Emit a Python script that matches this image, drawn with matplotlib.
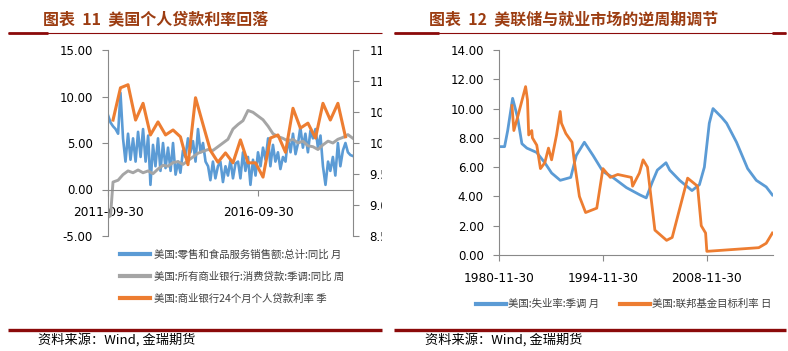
import numpy as np
import pandas as pd
import matplotlib
matplotlib.use('Agg')
import matplotlib.pyplot as plt
import matplotlib.dates as mdates
from matplotlib.lines import Line2D
from matplotlib.patches import Rectangle
from matplotlib.ticker import FormatStrFormatter

plt.rcParams['font.family'] = ['DejaVu Sans', 'Noto Sans CJK SC']
CJK = ['Noto Sans CJK SC', 'DejaVu Sans']

# ---------------- left chart data ----------------
retail_dates = pd.date_range('2011-09-30', periods=99, freq='ME')
retail_yoy = [8.0, 7.2, 6.8, 6.5,
              6.0, 10.4, 5.5, 3.0, 6.0, 3.2, 5.5, 3.0, 6.2, 3.5, 6.5, 3.0,
              5.8, 0.5, 4.8, 2.5, 5.5, 2.0, 5.0, 2.3, 4.5, 2.0, 5.0, 1.6,
              3.0, 1.8, 4.2, 3.5, 5.5, 4.0, 5.2, 3.0, 6.5, 4.0, 5.0, 3.0,
              2.5, 1.0, 3.0, 1.2, 2.5, 3.0, 0.8, 2.5, 1.5, 3.2, 1.2, 2.8,
              3.0, 1.2, 4.0, 2.0, 3.5, 0.5, 3.2, 1.5, 4.0, 2.5, 4.5, 3.2,
              5.5, 2.5, 4.8, 3.0, 4.0, 2.2, 3.5, 3.0, 5.5, 4.0, 6.0, 3.8,
              5.0, 6.7, 4.5, 6.0, 4.0, 6.3, 5.5, 6.5, 4.5, 5.8, 2.5, 0.5,
              3.0, 2.0, 3.5, 1.5, 5.0, 2.5, 4.2, 5.0, 4.0, 3.7, 3.6]

loan_dates = ['2011-09-30', '2011-10-31', '2011-11-30', '2012-01-31', '2012-03-31',
              '2012-05-31', '2012-07-31', '2012-09-30', '2012-11-30', '2013-01-31',
              '2013-03-31', '2013-05-31', '2013-07-31', '2013-09-30', '2013-11-30',
              '2014-01-31', '2014-03-31', '2014-05-31', '2014-07-31', '2014-09-30',
              '2014-11-30', '2015-01-31', '2015-03-31', '2015-05-31', '2015-07-31',
              '2015-09-30', '2015-11-30', '2016-01-31', '2016-03-31', '2016-05-31',
              '2016-07-31', '2016-09-30', '2016-11-30', '2017-01-31', '2017-03-31',
              '2017-05-31', '2017-07-31', '2017-09-30', '2017-11-30', '2018-01-31',
              '2018-03-31', '2018-05-31', '2018-07-31', '2018-09-30', '2018-11-30',
              '2019-01-31', '2019-03-31', '2019-05-31', '2019-07-31', '2019-09-30',
              '2019-11-30']
loan_yoy = [-3.0, -2.8, 0.8, 1.0, 1.6, 2.0, 1.8, 2.1, 1.8, 2.0,
            1.7, 2.2, 2.6, 2.5, 2.9, 3.0, 2.7, 3.1, 3.5, 3.9,
            4.1, 4.3, 4.2, 4.6, 5.0, 5.4, 6.5, 7.0, 7.4, 8.5,
            8.3, 7.9, 7.5, 6.8, 6.0, 5.7, 5.5, 5.2, 5.4, 5.0,
            5.2, 4.7, 4.6, 4.3, 4.8, 5.2, 5.0, 5.4, 5.6, 5.9,
            5.5]

rate_dates = pd.date_range('2011-11-30', periods=32, freq='3ME')
rate_24m = [10.37, 10.89, 10.94, 10.37, 10.64, 10.13, 10.34, 10.13, 10.21, 10.10,
            9.65, 10.73, 10.30, 9.88, 9.69, 9.84, 9.68, 10.05, 9.68, 9.68,
            9.45, 10.08, 10.13, 9.85, 10.56, 10.24, 10.32, 10.08, 10.64, 10.37,
            10.64, 10.10]

left_labels = ['美国:零售和食品服务销售额:总计:同比 月',
               '美国:所有商业银行:消费贷款:季调:同比 周',
               '美国:商业银行24个月个人贷款利率 季']

# ---------------- right chart data ----------------
unemp_dates = ['1980-11', '1981-09', '1982-02', '1982-10', '1983-06', '1984-01',
               '1984-09', '1986-01', '1987-02', '1988-01', '1989-03', '1990-08',
               '1991-05', '1992-06', '1993-08', '1994-12', '1996-04', '1998-02',
               '1999-12', '2000-10', '2001-08', '2002-04', '2003-06', '2003-12',
               '2005-04', '2006-12', '2007-12', '2008-08', '2009-04', '2009-10',
               '2010-12', '2011-08', '2012-12', '2014-06', '2015-08', '2016-12',
               '2017-10']
unemp_rate = [7.4, 7.4, 8.5, 10.7, 9.4, 7.6, 7.3, 7.0, 6.3, 5.6, 5.1, 5.3,
              6.8, 7.7, 6.8, 5.7, 5.3, 4.6, 4.1, 3.9, 5.0, 5.8, 6.3, 5.8,
              5.1, 4.4, 4.8, 6.0, 9.0, 10.0, 9.4, 9.0, 7.7, 5.9, 5.1, 4.65,
              4.1]

fed_dates = ['1982-09', '1982-12', '1983-06', '1984-07', '1984-10', '1984-12',
             '1985-05', '1985-06', '1986-01', '1986-07', '1987-02', '1987-08',
             '1988-01', '1988-09', '1989-03', '1989-05', '1989-12', '1990-10',
             '1991-02', '1991-10', '1992-08', '1994-02', '1994-12', '1995-12',
             '1996-12', '1998-10', '1998-12', '1999-11', '2000-05', '2000-12',
             '2001-07', '2001-12', '2003-07', '2004-04', '2006-05', '2007-09',
             '2008-03', '2008-10', '2008-12', '2015-12', '2016-12', '2017-10']
fed_rate = [10.2, 8.5, 9.4, 11.5, 10.6, 8.2, 8.5, 8.0, 7.5, 5.9, 6.3, 7.3,
            6.5, 8.2, 9.8, 9.0, 8.3, 7.7, 6.3, 4.0, 2.9, 3.2, 5.9, 5.3,
            5.5, 5.3, 4.7, 5.6, 6.5, 6.0, 3.5, 1.7, 1.0, 1.2, 5.25, 4.7,
            2.0, 1.5, 0.25, 0.5, 0.8, 1.5]

right_labels = ['美国:失业率:季调 月', '美国:联邦基金目标利率 日']

BLUE = '#5B9BD5'
ORANGE = '#ED7D31'
GRAY = '#A5A5A5'
SPINE = '#898989'
TITLE_C = '#9C3D12'
RED = '#8B0A0A'

W, H = 788, 351
fig = plt.figure(figsize=(W / 100, H / 100), dpi=100)


def fx(x):
    return x / W


def fy(y):
    return 1 - y / H


def hline(x0, x1, y, lw):
    fig.add_artist(Line2D([fx(x0), fx(x1)], [fy(y), fy(y)], transform=fig.transFigure,
                          color=RED, lw=lw, solid_capstyle='butt'))


# ---------------- left chart ----------------
ax1 = fig.add_axes([fx(108), fy(236), fx(245), (236 - 50) / H])
ax1.plot(retail_dates, retail_yoy, color=BLUE, lw=1.9)
ax1.plot(pd.to_datetime(loan_dates), loan_yoy, color=GRAY, lw=2.1)
ax1.set_ylim(-5, 15)
ax1.set_yticks([-5, 0, 5, 10, 15])
ax1.yaxis.set_major_formatter(FormatStrFormatter('%.2f'))
ax1.set_xlim(pd.Timestamp('2011-09-30'), pd.Timestamp('2019-12-01'))
ax1.set_xticks([pd.Timestamp('2011-09-30'), pd.Timestamp('2016-09-30')])
ax1.xaxis.set_major_formatter(mdates.DateFormatter('%Y-%m-%d'))
ax1.spines['bottom'].set_position(('data', 0))
for s in ['top', 'right']:
    ax1.spines[s].set_visible(False)
for s in ['left', 'bottom']:
    ax1.spines[s].set_color(SPINE)
ax1.tick_params(axis='y', length=4, color=SPINE, labelsize=8.5, pad=7)
ax1.tick_params(axis='x', length=4, color=SPINE, labelsize=8.7, pad=8)

ax1r = ax1.twinx()
ax1r.plot(rate_dates, rate_24m, color=ORANGE, lw=2.2)
ax1r.set_ylim(8.5, 11.5)
ax1r.set_yticks(np.arange(8.5, 11.51, 0.5))
ax1r.yaxis.set_major_formatter(FormatStrFormatter('%.2f'))
for s in ['top', 'left', 'bottom']:
    ax1r.spines[s].set_visible(False)
ax1r.spines['right'].set_color(SPINE)
ax1r.tick_params(axis='y', length=4, color=SPINE, labelsize=8.5, pad=8)

handles = [Line2D([], [], color=c, lw=3) for c in (BLUE, GRAY, ORANGE)]
leg1 = fig.legend(handles, left_labels, loc='upper left',
                  bbox_to_anchor=(fx(116), fy(245)), frameon=False,
                  prop={'family': CJK, 'size': 7.5}, handlelength=2.9,
                  handletextpad=0.3, labelspacing=1.15, borderaxespad=0)
for t in leg1.get_texts():
    t.set_color('#404040')

# hide the right-axis labels beyond the panel edge, as in the source
fig.add_artist(Rectangle((fx(381.5), fy(245)), fx(30), (245 - 38) / H,
                         transform=fig.transFigure, color='white', zorder=20))

# ---------------- right chart ----------------
ax2 = fig.add_axes([fx(499), fy(255), fx(274), (255 - 50) / H])
ax2.plot(pd.to_datetime(unemp_dates), unemp_rate, color=BLUE, lw=2.0)
ax2.plot(pd.to_datetime(fed_dates), fed_rate, color=ORANGE, lw=2.0)
ax2.set_ylim(0, 14)
ax2.set_yticks(np.arange(0, 14.1, 2))
ax2.yaxis.set_major_formatter(FormatStrFormatter('%.2f'))
ax2.set_xlim(pd.Timestamp('1980-11-30'), pd.Timestamp('2017-10-31'))
ax2.set_xticks([pd.Timestamp('1980-11-30'), pd.Timestamp('1994-11-30'),
                pd.Timestamp('2008-11-30')])
ax2.xaxis.set_major_formatter(mdates.DateFormatter('%Y-%m-%d'))
for s in ['top', 'right']:
    ax2.spines[s].set_visible(False)
for s in ['left', 'bottom']:
    ax2.spines[s].set_color(SPINE)
ax2.tick_params(axis='y', length=4, color=SPINE, labelsize=8.5, pad=7)
ax2.tick_params(axis='x', length=4, color=SPINE, labelsize=8.7, pad=8)

handles2 = [Line2D([], [], color=c, lw=3) for c in (BLUE, ORANGE)]
leg2 = fig.legend(handles2, right_labels, loc='upper left',
                  bbox_to_anchor=(fx(472), fy(295)), frameon=False, ncol=2,
                  prop={'family': CJK, 'size': 7.5}, handlelength=2.9,
                  handletextpad=0.15, columnspacing=2.0, borderaxespad=0)
for t in leg2.get_texts():
    t.set_color('#404040')

# ---------------- titles, rules, sources ----------------
fig.text(fx(43), fy(19), '图表  11  美国个人贷款利率回落', family=CJK, fontsize=11.5,
         fontweight='bold', color=TITLE_C, va='center', ha='left')
fig.text(fx(429), fy(19), '图表  12  美联储与就业市场的逆周期调节', family=CJK, fontsize=11.5,
         fontweight='bold', color=TITLE_C, va='center', ha='left')

hline(8, 382, 32.5, 0.8)
hline(8, 48, 32.5, 2.0)
hline(394, 786, 32.5, 0.8)
hline(394, 439, 32.5, 2.0)
hline(772, 786, 32.5, 2.0)

hline(8, 382, 330, 2.4)
hline(394, 786, 330, 2.4)

fig.text(fx(38), fy(340), '资料来源：Wind, 金瑞期货', family=CJK, fontsize=9.5,
         color='black', va='center', ha='left')
fig.text(fx(425), fy(340), '资料来源：Wind, 金瑞期货', family=CJK, fontsize=9.5,
         color='black', va='center', ha='left')

fig.savefig('out.png', dpi=100)
